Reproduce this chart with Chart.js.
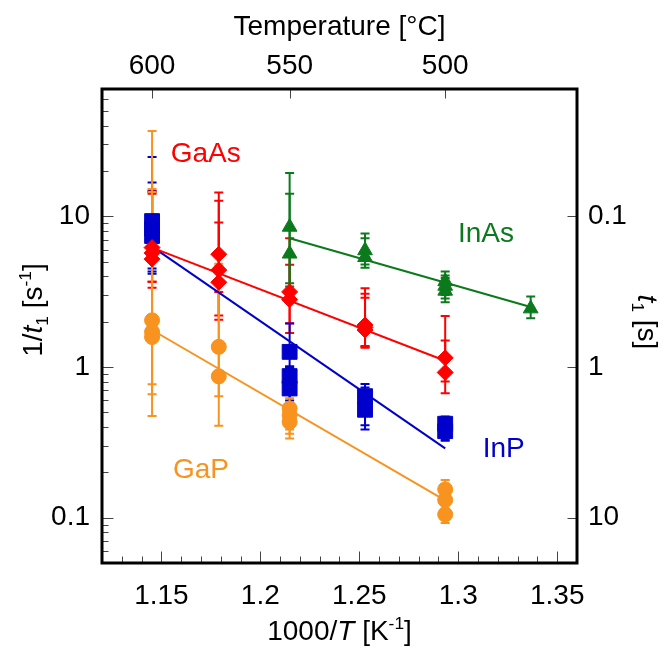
<!DOCTYPE html>
<html>
<head>
<meta charset="utf-8">
<script src="https://cdn.jsdelivr.net/npm/chart.js@4/dist/chart.umd.min.js"></script>
<style>
  html, body { margin: 0; padding: 0; background: #fff; }
  canvas { display: block; }
</style>
</head>
<body>
<canvas id="c" width="668" height="650"></canvas>
<script>
// ---- Axis ticks ----
const xTickValues = [1.15, 1.2, 1.25, 1.3, 1.35];
const xTickLabels = ['1.15', '1.2', '1.25', '1.3', '1.35'];
const tempTicksC = [600, 550, 500];           // top axis, growth temperature in °C
const rateTickValues = [0.1, 1, 10];           // 1/t1 in s^-1
const rateTickLabels = ['0.1', '1', '10'];
const timeTickLabels = ['10', '1', '0.1'];     // t1 in s at the same positions

// ---- GaAs (1000/T, 1/t1, upper, lower) ----
const gaAsX  = [1.1453, 1.1453, 1.1453, 1.179, 1.179, 1.179, 1.2148, 1.2148, 1.2529, 1.2529, 1.2529, 1.2934, 1.2934];
const gaAsY  = [6.2, 5.7, 5.2, 5.6, 4.4, 3.65, 3.15, 2.8, 1.9, 1.83, 1.76, 1.15, 0.92];
const gaAsHi = [14.8, 14.1, 14.5, 14.4, 12.7, 9.1, 7.15, 4.77, 3.33, 3.06, 2.88, 2.18, 1.5];
const gaAsLo = [3.36, 3.68, 3.68, 3.14, 2.2, 2.06, 1.95, 1.68, 1.38, 1.36, 1.34, 0.8, 0.67];

// ---- InP ----
const inPX  = [1.1453, 1.1453, 1.1453, 1.2148, 1.2148, 1.2148, 1.2529, 1.2529, 1.2934, 1.2934];
const inPY  = [9.3, 8.3, 7.4, 1.26, 0.87, 0.72, 0.64, 0.52, 0.42, 0.375];
const inPHi = [24.8, 16.8, 14.6, 1.94, 1.01, 0.98, 0.77, 0.73, 0.47, 0.45];
const inPLo = [4.5, 4.3, 4.16, 1.0, 0.6, 0.56, 0.41, 0.385, 0.33, 0.324];

// ---- GaP ----
const gaPX  = [1.1453, 1.1453, 1.1453, 1.179, 1.179, 1.2148, 1.2148, 1.2148, 1.2934, 1.2934, 1.2934];
const gaPY  = [2.04, 1.71, 1.58, 1.36, 0.867, 0.53, 0.48, 0.432, 0.154, 0.131, 0.105];
const gaPHi = [36.9, 15.2, 14.5, 4.84, 4.7, 0.62, 0.58, 0.55, 0.178, 0.165, 0.125];
const gaPLo = [0.473, 0.66, 0.768, 0.64, 0.407, 0.385, 0.36, 0.335, 0.14, 0.115, 0.092];

// ---- InAs ----
const inAsX  = [1.2148, 1.2148, 1.2529, 1.2529, 1.2934, 1.2934, 1.2934, 1.3366];
const inAsY  = [8.5, 5.64, 5.93, 5.35, 3.7, 3.45, 3.2, 2.44];
const inAsHi = [19.4, 14.1, 7.7, 7.15, 4.3, 4.05, 3.9, 2.94];
const inAsLo = [3.42, 3.6, 4.79, 4.55, 3.0, 2.85, 2.69, 2.11];

// ---- Arrhenius fits (end points) ----
const gaAsFitX = [1.1453, 1.2934], gaAsFitY = [6.2, 1.1];
const inPFitX  = [1.1453, 1.2934], inPFitY  = [6.3, 0.288];
const gaPFitX  = [1.1453, 1.2934], gaPFitY  = [1.76, 0.13];
const inAsFitX = [1.2148, 1.3366], inAsFitY = [7.15, 2.5];

// ---- colours ----
const RED = '#ff0000', BLUE = '#0000cc', ORANGE = '#f7931e', GREEN = '#0b7a1c';
const FONT = '"Liberation Sans", Arial, Helvetica, sans-serif';

const pts = (xs, ys, hi, lo) => xs.map((x, i) => ({ x, y: ys[i], yMax: hi[i], yMin: lo[i] }));
const line = (xs, ys) => xs.map((x, i) => ({ x, y: ys[i] }));

function markerSet(label, data, color, style, radius) {
  return {
    label, data, errorBars: true,
    showLine: false,
    pointStyle: style, pointRadius: radius,
    backgroundColor: color, borderColor: color, pointBorderWidth: 1
  };
}
function fitSet(label, data, color) {
  return {
    label, data, showLine: true, borderColor: color, borderWidth: 2,
    pointRadius: 0, fill: false, tension: 0
  };
}

// error bars with caps, drawn underneath the markers
const errorBarPlugin = {
  id: 'errorBars',
  beforeDatasetsDraw(chart) {
    const { ctx, chartArea, scales: { y } } = chart;
    ctx.save();
    ctx.beginPath();
    ctx.rect(chartArea.left, chartArea.top, chartArea.right - chartArea.left, chartArea.bottom - chartArea.top);
    ctx.clip();
    chart.data.datasets.forEach((ds, i) => {
      if (!ds.errorBars) return;
      const meta = chart.getDatasetMeta(i);
      ctx.strokeStyle = ds.borderColor;
      ctx.lineWidth = 2;
      ds.data.forEach((p, j) => {
        const px = meta.data[j].x;
        const top = y.getPixelForValue(p.yMax);
        const bot = y.getPixelForValue(p.yMin);
        ctx.beginPath();
        ctx.moveTo(px, top); ctx.lineTo(px, bot);
        ctx.moveTo(px - 4.5, top); ctx.lineTo(px + 4.5, top);
        ctx.moveTo(px - 4.5, bot); ctx.lineTo(px + 4.5, bot);
        ctx.stroke();
      });
    });
    ctx.restore();
  }
};

// rich text: segments with italic / subscript / superscript parts
function drawRich(ctx, segs, cx, cy, rot, size, color) {
  ctx.save();
  ctx.translate(cx, cy);
  ctx.rotate(rot);
  ctx.fillStyle = color;
  ctx.textAlign = 'left';
  ctx.textBaseline = 'alphabetic';
  let total = 0;
  const parts = segs.map(s => {
    const fs = (s.sub || s.sup) ? size * 0.62 : size;
    const font = (s.it ? 'italic ' : '') + fs + 'px ' + FONT;
    ctx.font = font;
    const w = ctx.measureText(s.t).width;
    total += w;
    return { s, font, w };
  });
  let x = -total / 2;
  const base = size * 0.36;
  parts.forEach(p => {
    const dy = p.s.sub ? size * 0.2 : p.s.sup ? -size * 0.38 : 0;
    ctx.font = p.font;
    ctx.fillText(p.s.t, x, base + dy);
    x += p.w;
  });
  ctx.restore();
}

// series names written inside the plot, anchored in data coordinates
const seriesNotes = [
  { text: 'GaAs', color: RED,    x: 1.1724, y: 26 },
  { text: 'InAs', color: GREEN,  x: 1.314,  y: 7.6 },
  { text: 'InP',  color: BLUE,   x: 1.323,  y: 0.285 },
  { text: 'GaP',  color: ORANGE, x: 1.170,  y: 0.205 }
];

const decorPlugin = {
  id: 'decor',
  afterDraw(chart) {
    const { ctx, chartArea: a, scales } = chart;
    const { x, y, xTop, yRight } = scales;
    ctx.save();

    // inward tick marks
    ctx.strokeStyle = '#444';
    ctx.lineWidth = 1;
    const vt = (px, y0, len) => { const xx = Math.round(px) + 0.5; ctx.beginPath(); ctx.moveTo(xx, y0); ctx.lineTo(xx, y0 + len); ctx.stroke(); };
    const ht = (py, x0, len) => { const yy = Math.round(py) + 0.5; ctx.beginPath(); ctx.moveTo(x0, yy); ctx.lineTo(x0 + len, yy); ctx.stroke(); };

    for (let k = 113; k <= 135; k++) {
      const major = k % 5 === 0;
      vt(x.getPixelForValue(k / 100), a.bottom, -(major ? 11.5 : 6.5));
    }
    for (let e = -2; e <= 1; e++) {
      for (let m = 1; m <= 9; m++) {
        const v = m * Math.pow(10, e);
        if (v <= 0.05 || v >= 70) continue;
        ht(y.getPixelForValue(v), a.left, m === 1 ? 11.5 : 6.5);
      }
    }
    tempTicksC.forEach(c => vt(xTop.getPixelForValue(1000 / (c + 273.15)), a.top, 9.5));
    rateTickValues.forEach(v => ht(yRight.getPixelForValue(v), a.right, -9.5));

    // frame
    ctx.strokeStyle = '#000';
    ctx.lineWidth = 3;
    ctx.strokeRect(a.left, a.top, a.right - a.left, a.bottom - a.top);

    // series names
    ctx.font = '28px ' + FONT;
    ctx.textAlign = 'center';
    ctx.textBaseline = 'middle';
    seriesNotes.forEach(n => {
      ctx.fillStyle = n.color;
      ctx.fillText(n.text, x.getPixelForValue(n.x), y.getPixelForValue(n.y));
    });

    // axis titles
    drawRich(ctx, [{ t: 'Temperature [°C]' }], (a.left + a.right) / 2, 25, 0, 28, '#000');
    drawRich(ctx, [{ t: '1000/' }, { t: 'T', it: true }, { t: ' [K' }, { t: '-1', sup: true }, { t: ']' }],
      (a.left + a.right) / 2, 630, 0, 28, '#000');
    drawRich(ctx, [{ t: '1/' }, { t: 't', it: true }, { t: '1', sub: true }, { t: ' [s' }, { t: '-1', sup: true }, { t: ']' }],
      32, 310, -Math.PI / 2, 28, '#000');
    drawRich(ctx, [{ t: 't', it: true }, { t: '1', sub: true }, { t: ' [s]' }],
      648, 322, Math.PI / 2, 28, '#000');

    ctx.restore();
  }
};

const tickFont = { family: FONT, size: 28 };
const noGrid = { display: false, drawTicks: false, tickLength: 0 };
const noBorder = { display: false };

new Chart(document.getElementById('c'), {
  type: 'scatter',
  data: {
    datasets: [
      markerSet('GaAs', pts(gaAsX, gaAsY, gaAsHi, gaAsLo), RED, 'rectRot', 8),
      markerSet('InP', pts(inPX, inPY, inPHi, inPLo), BLUE, 'rect', 10.5),
      markerSet('GaP', pts(gaPX, gaPY, gaPHi, gaPLo), ORANGE, 'circle', 7.5),
      markerSet('InAs', pts(inAsX, inAsY, inAsHi, inAsLo), GREEN, 'triangle', 8.5),
      fitSet('GaAs fit', line(gaAsFitX, gaAsFitY), RED),
      fitSet('InP fit', line(inPFitX, inPFitY), BLUE),
      fitSet('GaP fit', line(gaPFitX, gaPFitY), ORANGE),
      fitSet('InAs fit', line(inAsFitX, inAsFitY), GREEN)
    ]
  },
  options: {
    responsive: false,
    animation: false,
    events: [],
    layout: { padding: 0 },
    plugins: { legend: { display: false }, tooltip: { enabled: false } },
    scales: {
      x: {
        type: 'linear', position: 'bottom', min: 1.12, max: 1.36,
        grid: noGrid, border: noBorder,
        afterBuildTicks: s => { s.ticks = xTickValues.map(v => ({ value: v })); },
        afterFit: s => { s.height = 87; },
        ticks: { font: tickFont, color: '#000', padding: 16, maxRotation: 0, autoSkip: false,
                 callback: (v, i) => xTickLabels[i] }
      },
      xTop: {
        type: 'linear', position: 'top', min: 1.12, max: 1.36,
        grid: noGrid, border: noBorder,
        afterBuildTicks: s => { s.ticks = tempTicksC.map(c => ({ value: 1000 / (c + 273.15) })); },
        afterFit: s => { s.height = 89; },
        ticks: { font: tickFont, color: '#000', padding: 6, maxRotation: 0, autoSkip: false,
                 callback: (v, i) => String(tempTicksC[i]) }
      },
      y: {
        type: 'logarithmic', position: 'left', min: 0.05, max: 70,
        grid: noGrid, border: noBorder,
        afterBuildTicks: s => { s.ticks = rateTickValues.map(v => ({ value: v })); },
        afterFit: s => { s.width = 102; },
        ticks: { font: tickFont, color: '#000', padding: 12, autoSkip: false,
                 callback: (v, i) => rateTickLabels[i] }
      },
      yRight: {
        type: 'logarithmic', position: 'right', min: 0.05, max: 70,
        grid: noGrid, border: noBorder,
        afterBuildTicks: s => { s.ticks = rateTickValues.map(v => ({ value: v })); },
        afterFit: s => { s.width = 91; },
        ticks: { font: tickFont, color: '#000', padding: 11, autoSkip: false,
                 callback: (v, i) => timeTickLabels[i] }
      }
    }
  },
  plugins: [errorBarPlugin, decorPlugin]
});
</script>
</body>
</html>
